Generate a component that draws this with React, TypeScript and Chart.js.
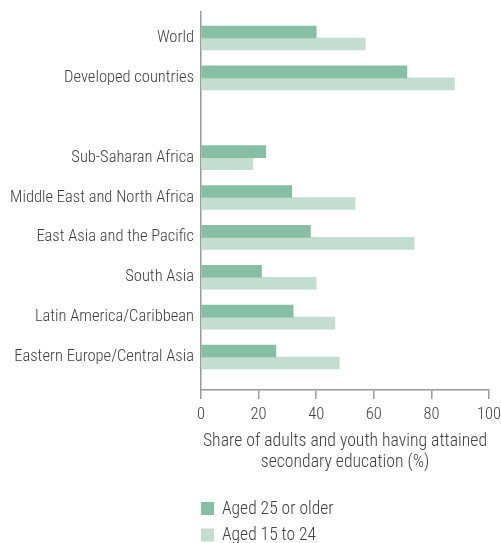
import React, { useEffect, useRef } from "react";
import { Chart, registerables } from "chart.js";

Chart.register(...registerables);

const categories: string[] = [
  "World",
  "Developed countries",
  "",
  "Sub-Saharan Africa",
  "Middle East and North Africa",
  "East Asia and the Pacific",
  "South Asia",
  "Latin America/Caribbean",
  "Eastern Europe/Central Asia",
];

const aged25OrOlder: (number | null)[] = [40, 71.5, null, 22.5, 31.5, 38, 21, 32, 26];
const aged15To24: (number | null)[] = [57, 88, null, 18, 53.5, 74, 40, 46.5, 48];

const seriesLabels = ["Aged 25 or older", "Aged 15 to 24"];
const xTicks = [0, 20, 40, 60, 80, 100];
const axisTitle = ["Share of adults and youth having attained", "secondary education (%)"];

const DARK = "#86bfa4";
const LIGHT = "#c3ded0";
const TEXT = "#404040";
const AXIS = "#9a9a9a";
const FONT = "'Roboto Condensed', 'Liberation Sans Narrow', Roboto, sans-serif";
const WEIGHT = "300";

const toPoints = (arr: (number | null)[]) =>
  arr
    .map((v, i) => (v == null ? null : { x: v, y: i }))
    .filter((p) => p !== null) as { x: number; y: number }[];

const legendPlugin = {
  id: "stackedLegend",
  afterDraw(chart: any) {
    const { ctx, chartArea } = chart;
    const left = chartArea.left;
    const firstY = chart.height - 34.5;
    const gap = 26.5;
    ctx.save();
    chart.data.datasets.forEach((ds: any, i: number) => {
      const cy = firstY + i * gap;
      ctx.fillStyle = ds.backgroundColor;
      ctx.fillRect(left, cy - 6.5, 13, 13);
      ctx.fillStyle = TEXT;
      ctx.font = `${WEIGHT} 17.5px ${FONT}`;
      ctx.textBaseline = "middle";
      ctx.textAlign = "left";
      ctx.fillText(ds.label, left + 21, cy + 1);
    });
    ctx.restore();
  },
};

export default function App() {
  const canvasRef = useRef<HTMLCanvasElement | null>(null);

  useEffect(() => {
    if (!canvasRef.current) return;
    const chart = new Chart(canvasRef.current, {
      type: "bar",
      data: {
        datasets: [
          {
            label: seriesLabels[0],
            data: toPoints(aged25OrOlder),
            backgroundColor: DARK,
            barThickness: 12,
          },
          {
            label: seriesLabels[1],
            data: toPoints(aged15To24),
            backgroundColor: LIGHT,
            barThickness: 12,
          },
        ],
      },
      options: {
        indexAxis: "y",
        animation: false,
        responsive: false,
        layout: { padding: { top: 12, right: 0, left: 0, bottom: 48 } },
        plugins: {
          legend: { display: false },
          tooltip: { enabled: false },
        },
        scales: {
          y: {
            type: "linear",
            reverse: true,
            offset: false,
            min: -0.652,
            max: 8.828,
            afterBuildTicks: (scale: any) => {
              scale.ticks = categories.map((_, i) => ({ value: i }));
            },
            afterFit: (scale: any) => {
              scale.width = 201;
              scale.paddingTop = 0;
              scale.paddingBottom = 0;
            },
            grid: { display: false, drawTicks: false, offset: false },
            border: { display: true, color: AXIS, width: 1.5 },
            ticks: {
              autoSkip: false,
              padding: 7,
              color: TEXT,
              font: { family: FONT, size: 16.5, weight: WEIGHT },
              callback: (v: any) => categories[v] ?? "",
            },
          },
          x: {
            type: "linear",
            position: "bottom",
            min: 0,
            max: 100,
            afterBuildTicks: (scale: any) => {
              scale.ticks = xTicks.map((v) => ({ value: v }));
            },
            afterFit: (scale: any) => {
              scale.height = 105;
              scale.paddingRight = 12;
              scale.paddingLeft = 0;
            },
            grid: {
              display: true,
              drawOnChartArea: false,
              drawTicks: true,
              tickLength: 9,
              color: AXIS,
              lineWidth: 1.5,
            },
            border: { display: true, color: AXIS, width: 1.5 },
            ticks: {
              padding: 6,
              color: TEXT,
              font: { family: FONT, size: 16.5, weight: WEIGHT },
            },
            title: {
              display: true,
              text: axisTitle,
              color: TEXT,
              font: { family: FONT, size: 17.7, lineHeight: 1.17, weight: WEIGHT },
              padding: { top: 4, bottom: 22 },
            },
          },
        },
      },
      plugins: [legendPlugin],
    });
    return () => chart.destroy();
  }, []);

  return (
    <div style={{ position: "fixed", left: 0, top: 0, width: 501, height: 543, background: "#fff" }}>
      <canvas ref={canvasRef} width={501} height={543} style={{ display: "block" }} />
    </div>
  );
}
